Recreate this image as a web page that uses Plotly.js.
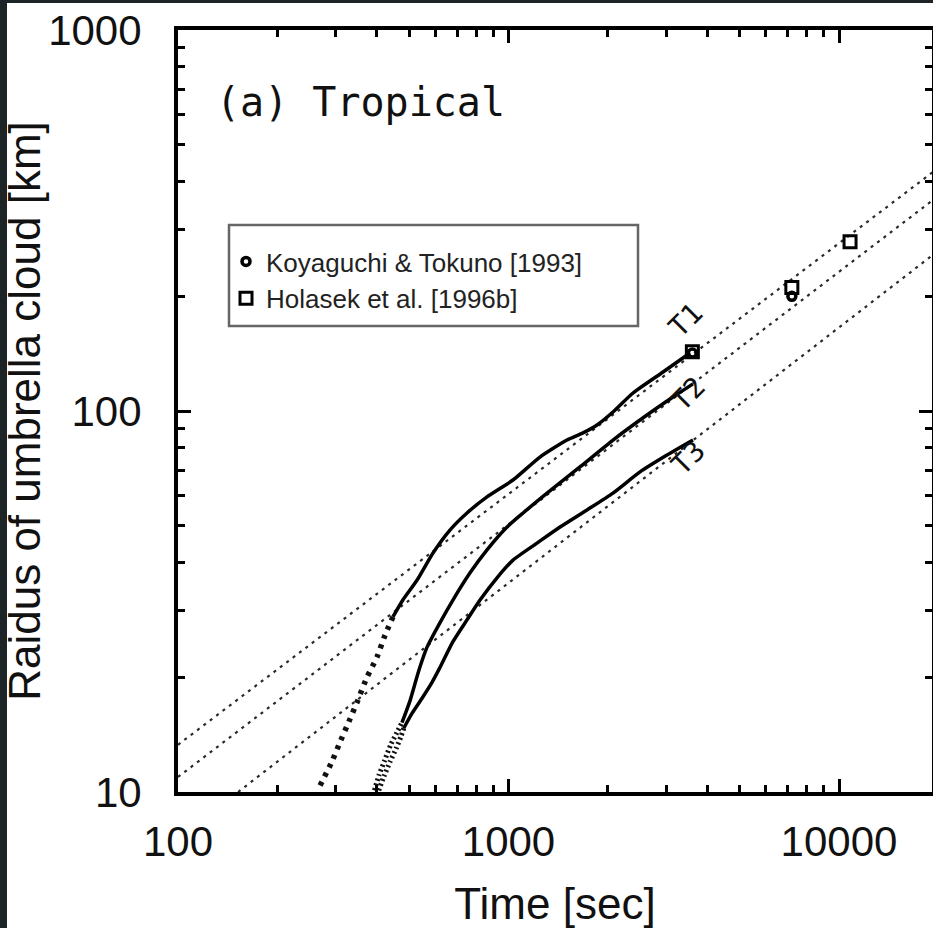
<!DOCTYPE html>
<html>
<head>
<meta charset="utf-8">
<script src="https://cdn.plot.ly/plotly-3.0.1.min.js"></script>
<style>
  html, body { margin: 0; padding: 0; background: #ffffff; overflow: hidden; }
  #chart { width: 933px; height: 928px; position: absolute; left: 0; top: 0; }
  .edgeL { position: absolute; left: 0; top: 0; width: 7px; height: 928px; background: #1d2427; }
  .edgeT { position: absolute; left: 0; top: 0; width: 933px; height: 3px; background: #1d2427; }
</style>
</head>
<body>
<div id="chart"></div>
<div class="edgeL"></div>
<div class="edgeT"></div>
<script>
// ---- Data ----
const xTickVals = [100, 1000, 10000];
const xTickText = ['100', '1000', '10000'];
const yTickVals = [10, 100, 1000];
const yTickText = ['10', '100', '1000'];

// T1 curve: early (dotted) and later (solid) parts
const timeT1Early = [269, 292, 309, 331, 350, 373, 400, 423, 447];
const radiusT1Early = [10.4, 12.0, 13.5, 15.5, 17.4, 20.0, 22.6, 25.8, 28.8];
const timeT1 = [447, 479, 529, 591, 665, 749, 861, 1032, 1245, 1503, 1680, 1853, 2071, 2381, 2935, 3541];
const radiusT1 = [28.8, 31.9, 36.0, 42.4, 48.7, 54.0, 59.5, 65.9, 75.7, 83.9, 87.6, 91.9, 99.4, 111.5, 126.6, 142.0];

// T2 curve
const timeT2Early = [393, 406, 422, 440, 459, 476];
const radiusT2Early = [10.1, 11.1, 12.1, 13.3, 14.3, 15.2];
const timeT2 = [476, 504, 536, 567, 620, 679, 765, 861, 990, 1107, 1308, 1645, 2071, 2625, 3146, 3616];
const radiusT2 = [15.2, 17.4, 20.9, 24.0, 27.8, 31.9, 37.6, 43.2, 49.6, 54.0, 60.9, 71.3, 83.9, 97.6, 108.8, 117.8];

// T3 curve
const timeT3Early = [405, 420, 438, 457, 473, 482];
const radiusT3Early = [10.1, 11.0, 12.0, 13.0, 14.0, 14.7];
const timeT3 = [482, 511, 547, 587, 620, 679, 749, 820, 923, 1032, 1220, 1432, 1728, 2071, 2500, 3017, 3616];
const radiusT3 = [14.7, 16.1, 17.6, 19.4, 21.2, 24.8, 28.3, 31.9, 36.5, 40.6, 45.0, 49.6, 55.0, 60.9, 69.2, 76.6, 83.9];

// Straight dotted power-law lines (end points)
const timeLineT1 = [100, 19250];
const radiusLineT1 = [13.3, 424];
const timeLineT2 = [100, 19250];
const radiusLineT2 = [10.95, 358];
const timeLineT3 = [152, 19250];
const radiusLineT3 = [10.0, 257];

// Observations
const timeKoyaguchi = [3600, 7200];
const radiusKoyaguchi = [142, 200];
const timeHolasek = [3600, 7200, 10800];
const radiusHolasek = [143, 211, 278];

const curveLabels = ['T1', 'T2', 'T3'];

// ---- Traces ----
const solid = {color: '#000000', width: 3.5, shape: 'spline', smoothing: 0.6};
const heavyDot = {color: '#111111', width: 5.5, dash: '4px,6px', shape: 'spline', smoothing: 0.6};
const denseDot = {color: '#111111', width: 5, dash: '2px,3px', shape: 'spline', smoothing: 0.6};
const thinDot = {color: '#2a2a2a', width: 2.2, dash: '3px,5px'};

const traces = [
  {x: timeLineT1, y: radiusLineT1, mode: 'lines', line: thinDot, showlegend: false, hoverinfo: 'skip'},
  {x: timeLineT2, y: radiusLineT2, mode: 'lines', line: thinDot, showlegend: false, hoverinfo: 'skip'},
  {x: timeLineT3, y: radiusLineT3, mode: 'lines', line: thinDot, showlegend: false, hoverinfo: 'skip'},
  {x: timeT1Early, y: radiusT1Early, mode: 'lines', line: heavyDot, showlegend: false},
  {x: timeT2Early, y: radiusT2Early, mode: 'lines', line: denseDot, showlegend: false},
  {x: timeT3Early, y: radiusT3Early, mode: 'lines', line: denseDot, showlegend: false},
  {x: timeT1, y: radiusT1, mode: 'lines', line: solid, showlegend: false},
  {x: timeT2, y: radiusT2, mode: 'lines', line: solid, showlegend: false},
  {x: timeT3, y: radiusT3, mode: 'lines', line: solid, showlegend: false},
  {x: timeKoyaguchi, y: radiusKoyaguchi, mode: 'markers', name: 'Koyaguchi & Tokuno [1993]',
   marker: {symbol: 'circle-open', size: 8, color: '#000000', line: {width: 3.5, color: '#000000'}}},
  {x: timeHolasek, y: radiusHolasek, mode: 'markers', name: 'Holasek et al. [1996b]',
   marker: {symbol: 'square-open', size: 12, color: '#000000', line: {width: 3, color: '#000000'}}}
];

// ---- Layout ----
const L = 178, T = 30, R = 932, B = 792;
const px = v => (v - L) / (R - L);
const py = v => (B - v) / (B - T);

const axisCommon = {
  type: 'log',
  showline: true, linecolor: '#000000', linewidth: 4, mirror: 'allticks',
  ticks: 'inside', ticklen: 13, tickwidth: 3, tickcolor: '#000000',
  minor: {ticks: 'inside', ticklen: 7, tickwidth: 3, tickcolor: '#000000', dtick: 'D1'},
  showgrid: false, zeroline: false,
  tickmode: 'array',
  tickfont: {family: 'Liberation Sans, Arial, sans-serif', size: 42, color: '#111111'}
};

const layout = {
  width: 933, height: 928,
  margin: {l: L, t: T, r: 933 - R, b: 928 - B, pad: 0},
  paper_bgcolor: '#ffffff', plot_bgcolor: '#ffffff',
  showlegend: true,
  xaxis: Object.assign({}, axisCommon, {
    range: [2, 2 + (R - L) / 330.5],
    tickvals: xTickVals, ticktext: xTickText,
    ticklabelstandoff: 10,
    title: {text: 'Time [sec]', font: {family: 'Liberation Sans, Arial, sans-serif', size: 44, color: '#111111'}, standoff: 34}
  }),
  yaxis: Object.assign({}, axisCommon, {
    range: [1, 3],
    tickvals: yTickVals, ticktext: yTickText,
    ticklabelstandoff: 24,
    title: {text: 'Raidus of umbrella cloud [km]', font: {family: 'Liberation Sans, Arial, sans-serif', size: 44, color: '#111111'}, standoff: 16}
  }),
  legend: {
    x: px(226), y: py(238), xanchor: 'left', yanchor: 'top',
    bgcolor: 'rgba(0,0,0,0)', borderwidth: 0,
    font: {family: 'Liberation Sans, Arial, sans-serif', size: 26, color: '#222222'},
    tracegroupgap: 0
  },
  shapes: [
    {type: 'rect', xref: 'paper', yref: 'paper', x0: px(229), x1: px(638), y0: py(326), y1: py(225),
     line: {color: '#666666', width: 2.5}, fillcolor: 'rgba(0,0,0,0)', layer: 'below'}
  ],
  annotations: [
    {xref: 'paper', yref: 'paper', x: px(214), y: py(102), xanchor: 'left', yanchor: 'middle',
     text: '(a) Tropical', showarrow: false,
     font: {family: 'DejaVu Sans Mono, monospace', size: 40, color: '#111111'}},
    {xref: 'paper', yref: 'paper', x: px(713), y: py(320), text: curveLabels[0], showarrow: false, textangle: -45,
     font: {family: 'DejaVu Sans Mono, monospace', size: 28, color: '#111111'}},
    {xref: 'paper', yref: 'paper', x: px(715), y: py(393), text: curveLabels[1], showarrow: false, textangle: -45,
     font: {family: 'DejaVu Sans Mono, monospace', size: 28, color: '#111111'}},
    {xref: 'paper', yref: 'paper', x: px(715), y: py(457), text: curveLabels[2], showarrow: false, textangle: -45,
     font: {family: 'DejaVu Sans Mono, monospace', size: 28, color: '#111111'}}
  ]
};

Plotly.newPlot('chart', traces, layout, {displayModeBar: false, staticPlot: true});
</script>
</body>
</html>
